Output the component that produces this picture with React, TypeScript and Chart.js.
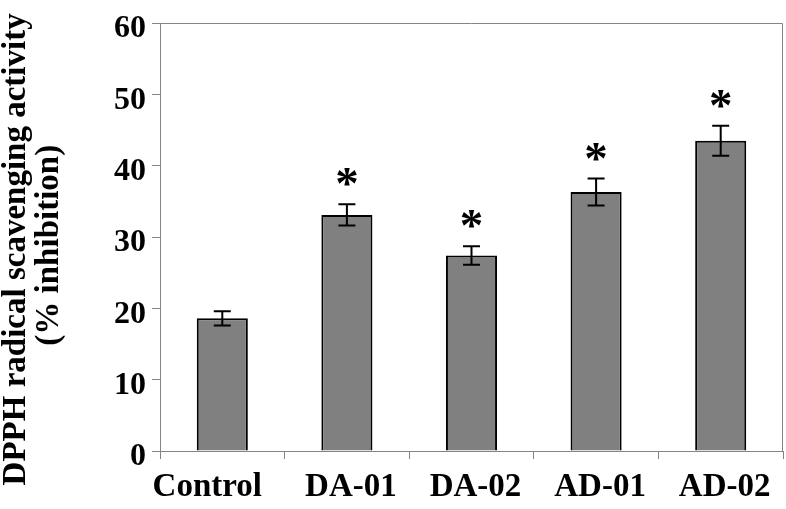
import React, { useEffect, useRef } from 'react';
import { Chart, registerables } from 'chart.js';

Chart.register(...registerables);

const categories = ['Control', 'DA-01', 'DA-02', 'AD-01', 'AD-02'];
const values = [18.6, 33.1, 27.4, 36.3, 43.5];
const errors = [1.0, 1.5, 1.3, 1.9, 2.1];
const significant = [false, true, true, true, true];
const yMin = 0;
const yMax = 60;
const yStep = 10;
const yTitle = ['DPPH radical scavenging activity   ', '(% inhibition)  '];
// horizontal nudge of individual category labels (pixels), as in the source figure
const labelShift = [-19, 0, 0, 0, 0];

const FONT = '"Liberation Serif", "Times New Roman", serif';
const AXIS_GRAY = '#858585';

const errorBarPlugin = {
  id: 'errorBars',
  afterDatasetsDraw(chart: any) {
    const ctx = chart.ctx;
    const meta = chart.getDatasetMeta(0);
    const y = chart.scales.y;
    ctx.save();
    ctx.strokeStyle = '#000';
    ctx.lineWidth = 2;
    meta.data.forEach((bar: any, i: number) => {
      const x = bar.x;
      const top = y.getPixelForValue(values[i] + errors[i]);
      const bot = y.getPixelForValue(values[i] - errors[i]);
      const cap = 8.5;
      ctx.beginPath();
      ctx.moveTo(x, top);
      ctx.lineTo(x, bot);
      ctx.moveTo(x - cap, top);
      ctx.lineTo(x + cap, top);
      ctx.moveTo(x - cap, bot);
      ctx.lineTo(x + cap, bot);
      ctx.stroke();
      if (significant[i]) {
        ctx.fillStyle = '#000';
        ctx.font = `bold 47px ${FONT}`;
        ctx.textAlign = 'center';
        ctx.textBaseline = 'alphabetic';
        const m = ctx.measureText('*');
        const cy = top - 27;
        const by = cy + (m.actualBoundingBoxAscent - m.actualBoundingBoxDescent) / 2;
        ctx.fillText('*', x, by);
      }
    });
    ctx.restore();
  },
};

const labelNudgePlugin = {
  id: 'labelNudge',
  beforeDraw(chart: any) {
    const items = chart.scales.x.getLabelItems();
    items.forEach((it: any, i: number) => {
      if (!it._nudged && labelShift[i]) {
        it.options.translation[0] += labelShift[i];
        it._nudged = true;
      }
    });
  },
};

const framePlugin = {
  id: 'frame',
  afterDraw(chart: any) {
    const { ctx, chartArea } = chart;
    ctx.save();
    ctx.strokeStyle = AXIS_GRAY;
    ctx.lineWidth = 1;
    ctx.beginPath();
    ctx.moveTo(chartArea.left, chartArea.top + 0.5);
    ctx.lineTo(chartArea.right - 0.5, chartArea.top + 0.5);
    ctx.lineTo(chartArea.right - 0.5, chartArea.bottom);
    ctx.stroke();
    ctx.restore();
  },
};

export default function App() {
  const ref = useRef<HTMLCanvasElement>(null);
  useEffect(() => {
    if (!ref.current) return;
    const chart = new Chart(ref.current, {
      type: 'bar',
      data: {
        labels: categories,
        datasets: [
          {
            data: values,
            backgroundColor: '#808080',
            borderColor: '#000',
            borderWidth: 2,
            barPercentage: 0.82,
            categoryPercentage: 0.5,
          },
        ],
      },
      options: {
        animation: false,
        responsive: false,
        maintainAspectRatio: false,
        layout: { padding: { top: 23, right: 3, left: 0, bottom: 0 } },
        plugins: {
          legend: { display: false },
          tooltip: { enabled: false },
        },
        scales: {
          x: {
            grid: {
              drawOnChartArea: false,
              drawTicks: true,
              tickLength: 8,
              color: AXIS_GRAY,
              offset: true,
            },
            border: { color: AXIS_GRAY, width: 1 },
            ticks: {
              color: '#000',
              font: { family: FONT, size: 33, weight: 'bold' },
              maxRotation: 0,
              padding: 9,
              labelOffset: 4,
            },
            afterFit(scale: any) {
              scale.height = 58;
              scale.paddingLeft = 0;
              scale.paddingRight = 0;
            },
          },
          y: {
            min: yMin,
            max: yMax,
            grid: {
              drawOnChartArea: false,
              drawTicks: true,
              tickLength: 8,
              color: AXIS_GRAY,
            },
            border: { color: AXIS_GRAY, width: 1 },
            ticks: {
              stepSize: yStep,
              color: '#000',
              font: { family: FONT, size: 32, weight: 'bold' },
              padding: 6,
              labelOffset: 6,
            },
            title: {
              display: true,
              text: yTitle,
              color: '#000',
              font: { family: FONT, size: 33, weight: 'bold', lineHeight: 1.0 },
              padding: { top: 0, bottom: 0 },
            },
            afterFit(scale: any) {
              scale.width = 160;
              scale.paddingTop = 0;
              scale.paddingBottom = 0;
            },
          },
        },
      },
      plugins: [errorBarPlugin, labelNudgePlugin, framePlugin],
    });
    return () => chart.destroy();
  }, []);
  return (
    <div style={{ position: 'fixed', left: 0, top: 0, width: 786, height: 509, background: '#fff' }}>
      <canvas ref={ref} width={786} height={509} style={{ display: 'block' }} />
    </div>
  );
}
